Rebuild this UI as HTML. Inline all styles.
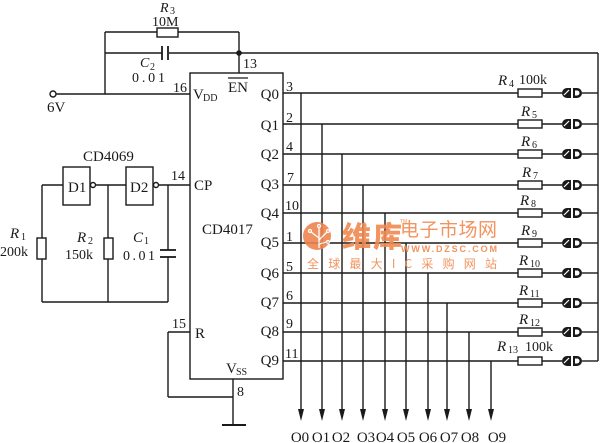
<!DOCTYPE html>
<html><head><meta charset="utf-8"><style>
html,body{margin:0;padding:0;background:#fff;}
svg{display:block;}
text{font-family:"Liberation Serif","Noto Serif CJK SC",serif;fill:#1a1a1a;}
.cjk{font-family:"Noto Sans CJK SC","WenQuanYi Zen Hei",sans-serif;}
.sans{font-family:"Liberation Sans",sans-serif;}
</style></head><body>
<svg width="600" height="443" viewBox="0 0 600 443" xmlns="http://www.w3.org/2000/svg">
<g stroke="#1a1a1a" stroke-width="1.4" fill="none">
  <!-- top R3 / C2 loop -->
  <line x1="105" y1="32" x2="157" y2="32"/>
  <rect x="157" y="28" width="21" height="9" fill="#fff"/>
  <line x1="178" y1="32" x2="239" y2="32"/>
  <line x1="239" y1="32" x2="239" y2="73"/>
  <line x1="105" y1="32" x2="105" y2="94"/>
  <line x1="105" y1="53" x2="162" y2="53"/>
  <line x1="169" y1="53" x2="239" y2="53"/>
  <line x1="162" y1="46" x2="162" y2="60" stroke-width="1.8"/>
  <line x1="168" y1="46" x2="168" y2="60" stroke-width="1.8"/>
  <line x1="239" y1="53" x2="598" y2="53"/>
  <line x1="598" y1="53" x2="598" y2="361"/>
  <!-- 6V -->
  <line x1="56" y1="94" x2="190" y2="94"/>
  <circle cx="53" cy="94" r="3" fill="#fff"/>
  <!-- IC -->
  <rect x="190" y="73" width="93" height="306"/>
  <!-- oscillator -->
  <rect x="63" y="167" width="27" height="38" fill="#fff"/>
  <rect x="126" y="167" width="27" height="38" fill="#fff"/>
  <circle cx="93" cy="185" r="2.5" fill="#fff"/>
  <circle cx="156" cy="185" r="2.5" fill="#fff"/>
  <line x1="96" y1="185" x2="126" y2="185"/>
  <line x1="159" y1="185" x2="190" y2="185"/>
  <line x1="42" y1="185" x2="63" y2="185"/>
  <line x1="42" y1="185" x2="42" y2="302"/>
  <line x1="42" y1="302" x2="168" y2="302"/>
  <line x1="108" y1="185" x2="108" y2="302"/>
  <line x1="168" y1="185" x2="168" y2="250"/>
  <line x1="168" y1="257" x2="168" y2="302"/>
  <line x1="160" y1="250" x2="176" y2="250" stroke-width="1.8"/>
  <line x1="160" y1="257" x2="176" y2="257" stroke-width="1.8"/>
  <rect x="37" y="238" width="9" height="21" fill="#fff"/>
  <rect x="104" y="238" width="9" height="21" fill="#fff"/>
  <!-- R pin / ground -->
  <line x1="168" y1="332" x2="190" y2="332"/>
  <line x1="168" y1="332" x2="168" y2="397"/>
  <line x1="168" y1="397" x2="233" y2="397"/>
  <line x1="233" y1="379" x2="233" y2="425"/>
  <line x1="222" y1="425" x2="246" y2="425" stroke-width="2"/>
  <!-- output rows -->
  <line x1="283" y1="93" x2="518" y2="93"/>
  <line x1="283" y1="124" x2="518" y2="124"/>
  <line x1="283" y1="154" x2="518" y2="154"/>
  <line x1="283" y1="185" x2="518" y2="185"/>
  <line x1="283" y1="213" x2="518" y2="213"/>
  <line x1="283" y1="243" x2="518" y2="243"/>
  <line x1="283" y1="273" x2="518" y2="273"/>
  <line x1="283" y1="303" x2="518" y2="303"/>
  <line x1="283" y1="332" x2="518" y2="332"/>
  <line x1="283" y1="361" x2="518" y2="361"/>
  <!-- vertical outputs -->
  <line x1="301" y1="93" x2="301" y2="412"/>
  <line x1="322" y1="124" x2="322" y2="412"/>
  <line x1="342" y1="154" x2="342" y2="412"/>
  <line x1="363" y1="185" x2="363" y2="412"/>
  <line x1="385" y1="213" x2="385" y2="412"/>
  <line x1="406" y1="243" x2="406" y2="412"/>
  <line x1="428" y1="273" x2="428" y2="412"/>
  <line x1="447" y1="303" x2="447" y2="412"/>
  <line x1="469" y1="332" x2="469" y2="412"/>
  <line x1="491" y1="361" x2="491" y2="412"/>
</g>
<circle cx="239" cy="53" r="2.8" fill="#1a1a1a"/>
<g fill="#1a1a1a">
  <polygon points="298,409 304,409 301,421"/>
  <polygon points="319,409 325,409 322,421"/>
  <polygon points="339,409 345,409 342,421"/>
  <polygon points="360,409 366,409 363,421"/>
  <polygon points="382,409 388,409 385,421"/>
  <polygon points="403,409 409,409 406,421"/>
  <polygon points="425,409 431,409 428,421"/>
  <polygon points="444,409 450,409 447,421"/>
  <polygon points="466,409 472,409 469,421"/>
  <polygon points="488,409 494,409 491,421"/>
</g>
<!-- resistor + LED rows -->
<defs>
  <g id="rl">
    <rect x="518" y="-4" width="24" height="8" fill="#fff" stroke="#1a1a1a" stroke-width="1.4"/>
    <line x1="542" y1="0" x2="562" y2="0" stroke="#1a1a1a" stroke-width="1.4"/>
    <path d="M571,-5 L567,-5 A5,5 0 0 0 567,5 L571,5 Z" fill="#1a1a1a"/>
    <line x1="564" y1="2" x2="569" y2="-3" stroke="#fff" stroke-width="1.2"/>
    <path d="M573,-5 L577,-5 A5,5 0 0 1 577,5 L573,5 Z" fill="#1a1a1a"/>
    <path d="M575,-2.5 L577,-2.5 A2.5,2.5 0 0 1 577,2.5 L575,2.5 Z" fill="#fff"/>
    <line x1="582" y1="0" x2="598" y2="0" stroke="#1a1a1a" stroke-width="1.4"/>
  </g>
</defs>
<use href="#rl" y="93"/>
<use href="#rl" y="124"/>
<use href="#rl" y="154"/>
<use href="#rl" y="185"/>
<use href="#rl" y="213"/>
<use href="#rl" y="243"/>
<use href="#rl" y="273"/>
<use href="#rl" y="303"/>
<use href="#rl" y="332"/>
<use href="#rl" y="361"/>

<!-- watermark -->
<g opacity="0.9">
  <circle cx="317" cy="236" r="14" fill="#ee8450"/>
  <g stroke="#fff" stroke-width="1.3" fill="none">
    <line x1="319" y1="248" x2="319" y2="228"/>
    <line x1="319" y1="238" x2="311" y2="232"/>
    <line x1="319" y1="240" x2="327" y2="232"/>
    <line x1="319" y1="244" x2="327" y2="242"/>
    <circle cx="319" cy="226" r="1.5"/>
    <circle cx="310" cy="231" r="1.5"/>
    <circle cx="328" cy="231" r="1.5"/>
    <circle cx="328" cy="242" r="1.5"/>
  </g>
  <text x="342" y="247" font-size="29" font-weight="900" class="cjk" style="fill:#f0894f" textLength="60">维库</text>
  <text x="400" y="223" font-size="5" class="sans" style="fill:#f0894f">TM</text>
  <text x="400" y="236" font-size="19" class="cjk" style="fill:#f0894f" textLength="97">电子市场网</text>
  <text x="401" y="252" font-size="9" font-weight="bold" class="sans" style="fill:#f0894f" textLength="96">WWW.DZSC.COM</text>
  <text x="307" y="268" font-size="12" class="cjk" style="fill:#f0894f" textLength="190">全球最大IC采购网站</text>
</g>

<!-- labels -->
<g font-size="14">
  <text x="160" y="12" font-style="italic">R</text><text x="170" y="14" font-size="10">3</text>
  <text x="152" y="26">10M</text>
  <text x="140" y="67" font-style="italic">C</text><text x="150" y="70" font-size="10">2</text>
  <text x="132" y="82" textLength="33">0.01</text>
  <text x="243" y="68">13</text>
  <text x="173" y="92">16</text>
  <text x="193" y="99" font-size="15">V</text><text x="203" y="101" font-size="10">DD</text>
  <text x="228" y="92" font-size="15">EN</text>
  <line x1="228" y1="78" x2="248" y2="78" stroke="#1a1a1a" stroke-width="1.2"/>
  <text x="47" y="112" font-size="15">6V</text>
  <text x="83" y="161" font-size="15">CD4069</text>
  <text x="68" y="192" font-size="15">D1</text>
  <text x="130" y="192" font-size="15">D2</text>
  <text x="171" y="180">14</text>
  <text x="194" y="190" font-size="15">CP</text>
  <text x="10" y="238" font-size="15" font-style="italic">R</text><text x="21" y="240" font-size="10">1</text>
  <text x="0" y="256">200k</text>
  <text x="77" y="242" font-size="15" font-style="italic">R</text><text x="88" y="244" font-size="10">2</text>
  <text x="65" y="259">150k</text>
  <text x="133" y="242" font-size="15" font-style="italic">C</text><text x="144" y="244" font-size="10">1</text>
  <text x="123" y="260" textLength="32">0.01</text>
  <text x="202" y="234" font-size="15">CD4017</text>
  <text x="172" y="328">15</text>
  <text x="195" y="338" font-size="15">R</text>
  <text x="226" y="373" font-size="15">V</text><text x="236" y="375" font-size="10">SS</text>
  <text x="237" y="396">8</text>
  <g font-size="15" text-anchor="end">
    <text x="279" y="99">Q0</text>
    <text x="279" y="130">Q1</text>
    <text x="279" y="159">Q2</text>
    <text x="279" y="189">Q3</text>
    <text x="279" y="218">Q4</text>
    <text x="279" y="247">Q5</text>
    <text x="279" y="278">Q6</text>
    <text x="279" y="307">Q7</text>
    <text x="279" y="336">Q8</text>
    <text x="279" y="365">Q9</text>
  </g>
  <text x="286" y="91">3</text>
  <text x="286" y="122">2</text>
  <text x="286" y="151">4</text>
  <text x="287" y="182">7</text>
  <text x="285" y="210">10</text>
  <text x="286" y="241">1</text>
  <text x="286" y="271">5</text>
  <text x="286" y="300">6</text>
  <text x="286" y="328">9</text>
  <text x="285" y="358">11</text>
  <!-- right resistor labels -->
  <text x="498" y="85" font-size="15" font-style="italic">R</text><text x="509" y="87" font-size="10">4</text>
  <text x="519" y="84">100k</text>
  <text x="521" y="116" font-size="15" font-style="italic">R</text><text x="532" y="118" font-size="10">5</text>
  <text x="521" y="146" font-size="15" font-style="italic">R</text><text x="532" y="148" font-size="10">6</text>
  <text x="522" y="177" font-size="15" font-style="italic">R</text><text x="533" y="179" font-size="10">7</text>
  <text x="520" y="205" font-size="15" font-style="italic">R</text><text x="531" y="207" font-size="10">8</text>
  <text x="521" y="235" font-size="15" font-style="italic">R</text><text x="532" y="237" font-size="10">9</text>
  <text x="519" y="265" font-size="15" font-style="italic">R</text><text x="530" y="267" font-size="10">10</text>
  <text x="519" y="295" font-size="15" font-style="italic">R</text><text x="530" y="297" font-size="10">11</text>
  <text x="519" y="324" font-size="15" font-style="italic">R</text><text x="530" y="326" font-size="10">12</text>
  <text x="497" y="351" font-size="15" font-style="italic">R</text><text x="508" y="353" font-size="10">13</text>
  <text x="525" y="351">100k</text>
  <!-- bottom labels -->
  <g font-size="15" text-anchor="middle">
    <text x="300" y="442">O0</text>
    <text x="321" y="442">O1</text>
    <text x="341" y="442">O2</text>
    <text x="366" y="442">O3</text>
    <text x="385" y="442">O4</text>
    <text x="406" y="442">O5</text>
    <text x="428" y="442">O6</text>
    <text x="449" y="442">O7</text>
    <text x="470" y="442">O8</text>
    <text x="497" y="442">O9</text>
  </g>
</g>
</svg>
</body></html>
